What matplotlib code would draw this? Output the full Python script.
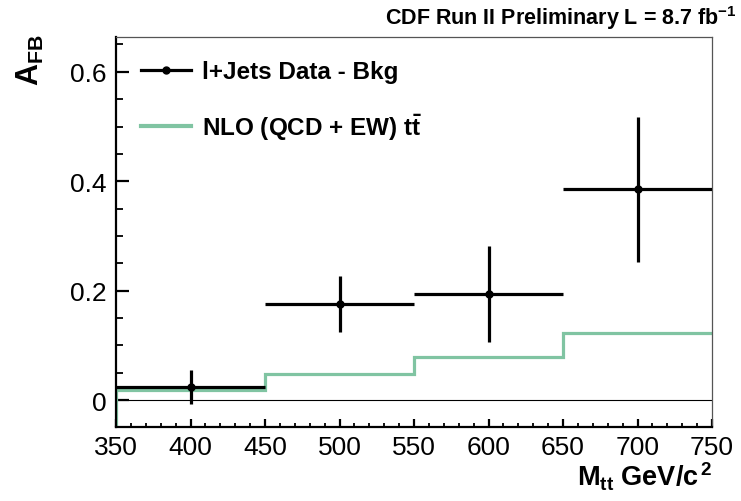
import numpy as np
import matplotlib
matplotlib.use('Agg')
import matplotlib.pyplot as plt
from matplotlib.lines import Line2D
from matplotlib.ticker import MultipleLocator

plt.rcParams['font.family'] = ['Liberation Sans', 'DejaVu Sans']
plt.rcParams['mathtext.fontset'] = 'custom'
plt.rcParams['mathtext.rm'] = 'Liberation Sans'
plt.rcParams['mathtext.bf'] = 'Liberation Sans:bold'
plt.rcParams['mathtext.it'] = 'Liberation Sans:italic'

# data - bkg points (bin centres, half widths, value, error)
mass_centres = [400, 500, 600, 700]
mass_halfwidth = [50, 50, 50, 50]
afb_data = [0.024, 0.176, 0.194, 0.385]
afb_err = [0.031, 0.051, 0.088, 0.132]

# NLO (QCD + EW) prediction, step histogram
nlo_edges = [350, 450, 550, 650, 750]
nlo_afb = [0.019, 0.048, 0.078, 0.122]

green = '#80c4a2'

fig = plt.figure(figsize=(7.41, 5.02), dpi=100)
ax = fig.add_axes([116/741, 1 - 428/502, 596/741, 390/502])

ymin, ymax = -0.049, 0.6636
ax.set_xlim(350, 750)
ax.set_ylim(ymin, ymax)

# zero line
ax.axhline(0, color='black', lw=0.8, zorder=1)

# nlo histogram, drawn from the bottom of the frame like root does
xs = [nlo_edges[0]] + list(np.repeat(nlo_edges, 2)[1:-1]) + [nlo_edges[-1]]
ys = [ymin] + list(np.repeat(nlo_afb, 2)) + [nlo_afb[-1]]
ax.plot(xs, ys, color=green, lw=2.3, zorder=2, solid_joinstyle='miter')

ax.errorbar(mass_centres, afb_data, xerr=mass_halfwidth, yerr=afb_err,
            fmt='o', color='black', ms=5, elinewidth=2.3, capsize=0, zorder=3)

# axes style
for s in ['left', 'bottom']:
    ax.spines[s].set_linewidth(1.6)
for s in ['top', 'right']:
    ax.spines[s].set_linewidth(0.9)
    ax.spines[s].set_color('#555555')

ax.xaxis.set_major_locator(MultipleLocator(50))
ax.xaxis.set_minor_locator(MultipleLocator(10))
ax.yaxis.set_major_locator(MultipleLocator(0.2))
ax.yaxis.set_minor_locator(MultipleLocator(0.05))
ax.tick_params(axis='both', which='both', direction='in', top=False, right=False)
ax.tick_params(axis='x', which='major', length=6, width=1.6, pad=6, labelsize=19)
ax.tick_params(axis='x', which='minor', length=3, width=1.3)
ax.tick_params(axis='y', which='major', length=9, width=1.6, pad=7, labelsize=19)
ax.tick_params(axis='y', which='minor', length=5, width=1.3)
ax.set_yticklabels(['0' if abs(v) < 1e-9 else '%.1f' % v for v in ax.get_yticks()])

# legend
handles = [Line2D([], [], color='black', lw=2.3, marker='o', ms=5),
           Line2D([], [], color=green, lw=3)]
labels = ['l+Jets Data - Bkg', r'NLO (QCD + EW) $\mathbf{t\bar{t}}$']
leg = ax.legend(handles, labels, loc='upper left', bbox_to_anchor=(0.042, 0.94),
                frameon=False, borderpad=0, borderaxespad=0, handlelength=2.06,
                handletextpad=0.45, labelspacing=1.15,
                prop={'weight': 'bold', 'size': 17.5})

# texts
fig.text(737/741, 1 - 18/502, r'CDF Run II Preliminary L = 8.7 fb$^{\mathbf{-1}}$',
         ha='right', va='center', fontsize=15.5, fontweight='bold')
fig.text(30/741, 1 - 60/502, r'$\mathbf{A_{FB}}$', rotation=90,
         ha='center', va='center', fontsize=22)
fig.text(712/741, 1 - 487/502, r'$\mathbf{M_{tt}}$ GeV/c$^{\,\mathbf{2}}$',
         ha='right', va='baseline', fontsize=19.5, fontweight='bold')

fig.savefig('out.png', dpi=100)
